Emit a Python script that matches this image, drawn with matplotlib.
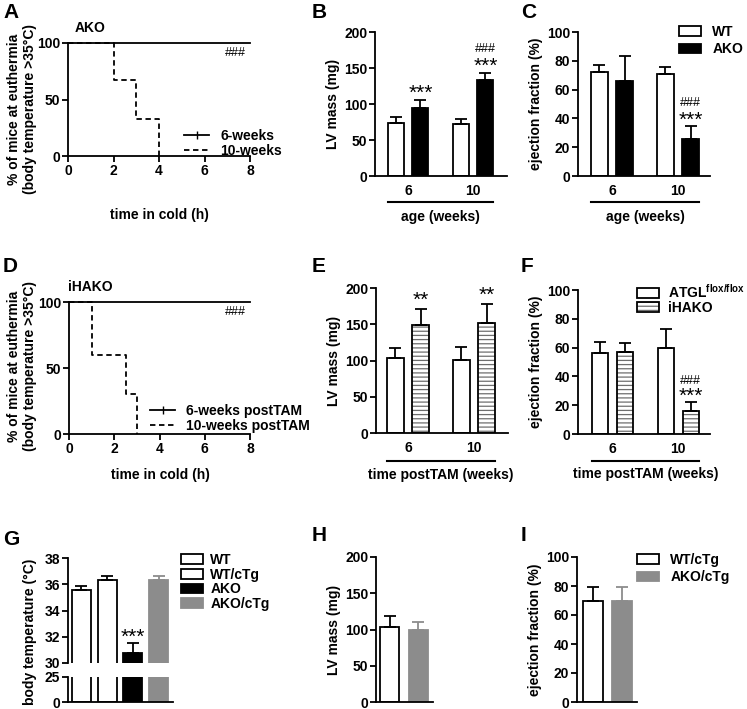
import matplotlib
matplotlib.use('Agg')
import matplotlib.pyplot as plt
from matplotlib.patches import Patch
from matplotlib.lines import Line2D
import numpy as np

plt.rcParams['font.family'] = ['Liberation Sans', 'DejaVu Sans']
plt.rcParams['font.weight'] = 'bold'
plt.rcParams['axes.labelweight'] = 'bold'
plt.rcParams['mathtext.fontset'] = 'custom'
plt.rcParams['mathtext.rm'] = 'Liberation Sans:bold'
plt.rcParams['mathtext.bf'] = 'Liberation Sans:bold'
plt.rcParams['hatch.linewidth'] = 0.9

# ---------------- data ----------------
a_time_6wk = [0, 8]
a_surv_6wk = [100, 100]
a_time_10wk = [0, 2, 3, 4]
a_surv_10wk = [100, 67, 33, 0]

d_time_6wk = [0, 8]
d_surv_6wk = [100, 100]
d_time_10wk = [0, 1, 2.5, 3]
d_surv_10wk = [100, 60, 30, 0]

groups = ['6', '10']
b_wt_mean = [74, 72]
b_wt_err = [8, 7]
b_ako_mean = [95, 133]
b_ako_err = [10, 10]

c_wt_mean = [72, 71]
c_wt_err = [5, 5]
c_ako_mean = [66, 26]
c_ako_err = [17, 9]

e_flox_mean = [104, 101]
e_flox_err = [13, 17]
e_ihako_mean = [149, 152]
e_ihako_err = [22, 26]

f_flox_mean = [56.5, 59.5]
f_flox_err = [7.5, 13.5]
f_ihako_mean = [57, 16]
f_ihako_err = [6.5, 6.5]

g_labels = ['WT', 'WT/cTg', 'AKO', 'AKO/cTg']
g_mean = [35.6, 36.3, 30.8, 36.3]
g_err = [0.3, 0.3, 0.7, 0.3]

hi_labels = ['WT/cTg', 'AKO/cTg']
h_mean = [104, 100]
h_err = [14, 10]
i_mean = [70, 69.5]
i_err = [9, 10]

GREY = '#8c8c8c'
LW = 1.3
FS = 10

W, H = 747, 709
fig = plt.figure(figsize=(W / 100, H / 100), dpi=100)


def rect(x0, y0, x1, y1):
    return [x0 / W, 1 - y1 / H, (x1 - x0) / W, (y1 - y0) / H]


def fxy(x, y):
    return (x / W, 1 - y / H)


def style(ax):
    for s in ['top', 'right']:
        ax.spines[s].set_visible(False)
    for s in ['left', 'bottom']:
        ax.spines[s].set_linewidth(LW)
    ax.tick_params(width=LW, length=4, labelsize=FS, direction='out', pad=1.5)


def letter(ch, x, y):
    fig.text(*fxy(x, y), ch, fontsize=15, fontweight='bold', ha='left', va='top')


def errbars(ax, x, means, errs, color='k'):
    ax.errorbar(x, means, yerr=[np.zeros(len(errs)), errs], fmt='none',
                ecolor=color, elinewidth=LW, capsize=4, capthick=LW, zorder=3)


def hatched_bars(ax, x, means, width):
    ax.bar(x, means, width, color='white', edgecolor='#6e6e6e', hatch='----',
           linewidth=0, zorder=2)
    ax.bar(x, means, width, fill=False, edgecolor='k', linewidth=LW, zorder=2.5)


def stat(ax, x, y, txt, off, kind='star'):
    if kind == 'star':
        ax.annotate(txt, xy=(x, y), xytext=(0, off), textcoords='offset points',
                    ha='center', va='baseline', fontsize=15, fontweight='normal',
                    annotation_clip=False)
    else:
        ax.annotate(txt, xy=(x, y), xytext=(0, off), textcoords='offset points',
                    ha='center', va='baseline', fontsize=9, fontweight='normal',
                    annotation_clip=False)


def group_bracket(ax, x0, x1, yfrac, label, lab_frac):
    ax.plot([x0, x1], [yfrac, yfrac], color='k', lw=1.5,
            transform=ax.get_xaxis_transform(), clip_on=False)
    ax.text((x0 + x1) / 2, lab_frac, label, transform=ax.get_xaxis_transform(),
            ha='center', va='center', fontsize=FS, fontweight='bold')


def km_handles():
    return [Line2D([0, 1], [0, 0], color='k', lw=LW, marker='|', markersize=6),
            Line2D([0, 1], [0, 0], color='k', lw=LW, ls=(0, (3, 2)))]


# ---------------- A ----------------
axA = fig.add_axes(rect(68, 43, 250, 156))
style(axA)
axA.step(a_time_10wk, a_surv_10wk, where='post', color='k', lw=LW,
         ls=(0, (3, 2)), clip_on=False)
axA.plot(a_time_6wk, a_surv_6wk, color='k', lw=LW, clip_on=False)
axA.set_xlim(0, 8)
axA.set_ylim(0, 100)
axA.set_xticks([0, 2, 4, 6, 8])
axA.set_yticks([0, 50, 100])
axA.set_ylabel('% of mice at euthermia\n(body temperature >35°C)', fontsize=FS,
               linespacing=1.15)
axA.yaxis.set_label_coords((37 - 68) / 182, (156 - 109) / 113)
fig.text(*fxy(159, 215), 'time in cold (h)', ha='center', va='center', fontsize=FS)
fig.text(*fxy(90, 28), 'AKO', ha='center', va='center', fontsize=FS)
fig.text(*fxy(235, 53), '###', ha='center', va='center', fontsize=9, fontweight='normal')
axA.legend(km_handles(), ['6-weeks', '10-weeks'], loc='upper left',
           bbox_to_anchor=fxy(184, 129), bbox_transform=fig.transFigure,
           frameon=False, fontsize=FS, handlelength=1.8, handletextpad=0.8,
           labelspacing=0.05, borderpad=0, borderaxespad=0)
letter('A', 3, 3)

# ---------------- D ----------------
axD = fig.add_axes(rect(69, 302, 250, 434))
style(axD)
axD.step(d_time_10wk, d_surv_10wk, where='post', color='k', lw=LW,
         ls=(0, (3, 2)), clip_on=False)
axD.plot(d_time_6wk, d_surv_6wk, color='k', lw=LW, clip_on=False)
axD.set_xlim(0, 8)
axD.set_ylim(0, 100)
axD.set_xticks([0, 2, 4, 6, 8])
axD.set_yticks([0, 50, 100])
axD.set_ylabel('% of mice at euthermia\n(body temperature >35°C)', fontsize=FS,
               linespacing=1.15)
axD.yaxis.set_label_coords((37 - 69) / 181, (434 - 366) / 132)
fig.text(*fxy(160, 475), 'time in cold (h)', ha='center', va='center', fontsize=FS)
fig.text(*fxy(90, 287), 'iHAKO', ha='center', va='center', fontsize=FS)
fig.text(*fxy(235, 312), '###', ha='center', va='center', fontsize=9, fontweight='normal')
axD.legend(km_handles(), ['6-weeks postTAM', '10-weeks postTAM'], loc='upper left',
           bbox_to_anchor=fxy(150, 404), bbox_transform=fig.transFigure,
           frameon=False, fontsize=FS, handlelength=1.8, handletextpad=0.8,
           labelspacing=0.05, borderpad=0, borderaxespad=0)
letter('D', 3, 257)

# ---------------- B ----------------
gx = np.arange(len(groups))
d, w = 0.19, 0.25
axB = fig.add_axes(rect(375, 32, 507, 176))
style(axB)
axB.bar(gx - d, b_wt_mean, w, color='white', edgecolor='k', lw=LW, zorder=2)
axB.bar(gx + d, b_ako_mean, w, color='k', edgecolor='k', lw=LW, zorder=2)
errbars(axB, gx - d, b_wt_mean, b_wt_err)
errbars(axB, gx + d, b_ako_mean, b_ako_err)
axB.set_xlim(-0.508, 1.523)
axB.set_ylim(0, 200)
axB.set_yticks([0, 50, 100, 150, 200])
axB.set_xticks(gx, groups)
axB.tick_params(axis='x', length=0, pad=6)
axB.set_ylabel('LV mass (mg)', fontsize=FS, labelpad=3)
stat(axB, gx[0] + d, b_ako_mean[0] + b_ako_err[0], '***', 1)
stat(axB, gx[1] + d, b_ako_mean[1] + b_ako_err[1], '***', 1)
stat(axB, gx[1] + d, b_ako_mean[1] + b_ako_err[1], '###', 15, 'hash')
group_bracket(axB, gx[0] - d - w / 2, gx[1] + d + w / 2, -0.18, 'age (weeks)', -0.285)
letter('B', 312, 3)

# ---------------- C ----------------
axC = fig.add_axes(rect(578, 32, 710, 176))
style(axC)
axC.bar(gx - d, c_wt_mean, w, color='white', edgecolor='k', lw=LW, zorder=2)
axC.bar(gx + d, c_ako_mean, w, color='k', edgecolor='k', lw=LW, zorder=2)
errbars(axC, gx - d, c_wt_mean, c_wt_err)
errbars(axC, gx + d, c_ako_mean, c_ako_err)
axC.set_xlim(-0.515, 1.485)
axC.set_ylim(0, 100)
axC.set_yticks([0, 20, 40, 60, 80, 100])
axC.set_xticks(gx, groups)
axC.tick_params(axis='x', length=0, pad=6)
axC.set_ylabel('ejection fraction (%)', fontsize=FS, labelpad=3)
stat(axC, gx[1] + d, c_ako_mean[1] + c_ako_err[1], '***', 0)
stat(axC, gx[1] + d, c_ako_mean[1] + c_ako_err[1], '###', 14, 'hash')
group_bracket(axC, gx[0] - d - w / 2, gx[1] + d + w / 2, -0.18, 'age (weeks)', -0.285)
axC.legend([Patch(facecolor='white', edgecolor='k', lw=LW),
            Patch(facecolor='k', edgecolor='k', lw=LW)], ['WT', 'AKO'],
           loc='upper left', bbox_to_anchor=fxy(679, 25), bbox_transform=fig.transFigure,
           frameon=False, fontsize=FS, handlelength=1.6, handleheight=0.7,
           handletextpad=0.8, labelspacing=0.25, borderpad=0, borderaxespad=0)
letter('C', 521, 3)

# ---------------- E ----------------
axE = fig.add_axes(rect(376, 288, 508, 433))
style(axE)
axE.bar(gx - d, e_flox_mean, w, color='white', edgecolor='k', lw=LW, zorder=2)
hatched_bars(axE, gx + d, e_ihako_mean, w)
errbars(axE, gx - d, e_flox_mean, e_flox_err)
errbars(axE, gx + d, e_ihako_mean, e_ihako_err)
axE.set_xlim(-0.485, 1.515)
axE.set_ylim(0, 200)
axE.set_yticks([0, 50, 100, 150, 200])
axE.set_xticks(gx, groups)
axE.tick_params(axis='x', length=0, pad=6)
axE.set_ylabel('LV mass (mg)', fontsize=FS, labelpad=3)
stat(axE, gx[0] + d, e_ihako_mean[0] + e_ihako_err[0], '**', 2)
stat(axE, gx[1] + d, e_ihako_mean[1] + e_ihako_err[1], '**', 2)
group_bracket(axE, gx[0] - d - w / 2, gx[1] + d + w / 2, -0.193, 'time postTAM (weeks)', -0.29)
letter('E', 312, 257)

# ---------------- F ----------------
axF = fig.add_axes(rect(578, 290, 710, 434))
style(axF)
axF.bar(gx - d, f_flox_mean, w, color='white', edgecolor='k', lw=LW, zorder=2)
hatched_bars(axF, gx + d, f_ihako_mean, w)
errbars(axF, gx - d, f_flox_mean, f_flox_err)
errbars(axF, gx + d, f_ihako_mean, f_ihako_err)
axF.set_xlim(-0.52, 1.48)
axF.set_ylim(0, 100)
axF.set_yticks([0, 20, 40, 60, 80, 100])
axF.set_xticks(gx, groups)
axF.tick_params(axis='x', length=0, pad=6)
axF.set_ylabel('ejection fraction (%)', fontsize=FS, labelpad=3)
stat(axF, gx[1] + d, f_ihako_mean[1] + f_ihako_err[1], '***', 0)
stat(axF, gx[1] + d, f_ihako_mean[1] + f_ihako_err[1], '###', 13, 'hash')
group_bracket(axF, gx[0] - d - w / 2, gx[1] + d + w / 2, -0.188, 'time postTAM (weeks)', -0.28)
fp = Patch(facecolor='white', edgecolor='#6e6e6e', hatch='----', lw=0)
axF.legend([Patch(facecolor='white', edgecolor='k', lw=LW),
            (fp, Patch(fill=False, edgecolor='k', lw=LW))],
           [r'ATGL$^{\mathbf{flox/flox}}$', 'iHAKO'],
           loc='upper left', bbox_to_anchor=fxy(637, 283), bbox_transform=fig.transFigure,
           frameon=False, fontsize=FS, handlelength=1.6, handleheight=0.7,
           handletextpad=0.6, labelspacing=0.0, borderpad=0, borderaxespad=0)
letter('F', 521, 257)

# ---------------- G ----------------
gxg = np.arange(len(g_labels))
wg = 0.74
g_face = ['white', 'white', 'k', GREY]
g_edge = ['k', 'k', 'k', GREY]
axGt = fig.add_axes(rect(68, 558, 173, 663))
axGb = fig.add_axes(rect(68, 677, 173, 702))
for ax in (axGt, axGb):
    style(ax)
    ax.bar(gxg, g_mean, wg, color=g_face, edgecolor=g_edge, lw=LW, zorder=2)
    ax.set_xlim(-0.525, 3.56)
    ax.set_xticks([])
axGt.spines['bottom'].set_visible(False)
for xi, m, e, c in zip(gxg, g_mean, g_err, g_edge):
    errbars(axGt, [xi], [m], [e], color=c)
axGt.set_ylim(30, 38)
axGt.set_yticks([30, 32, 34, 36, 38])
axGb.set_ylim(0, 25)
axGb.set_yticks([0, 25])
stat(axGt, gxg[2], g_mean[2] + g_err[2], '***', 0)
fig.text(*fxy(30, 632), 'body temperature (°C)', rotation=90, ha='center', va='center',
         fontsize=FS)
axGt.legend([Patch(facecolor=f, edgecolor=e, lw=LW) for f, e in zip(g_face, g_edge)],
            g_labels, loc='upper left', bbox_to_anchor=fxy(181, 553),
            bbox_transform=fig.transFigure, frameon=False, fontsize=FS,
            handlelength=1.6, handleheight=0.7, handletextpad=0.5,
            labelspacing=0.05, borderpad=0, borderaxespad=0)
letter('G', 3, 530)

# ---------------- H ----------------
hx = np.arange(len(hi_labels))
axH = fig.add_axes(rect(376, 557, 433, 702))
style(axH)
axH.bar(hx, h_mean, 0.667, color=['white', GREY], edgecolor=['k', GREY], lw=LW, zorder=2)
errbars(axH, [hx[0]], [h_mean[0]], [h_err[0]], 'k')
errbars(axH, [hx[1]], [h_mean[1]], [h_err[1]], GREY)
axH.set_xlim(-0.474, 1.526)
axH.set_ylim(0, 200)
axH.set_yticks([0, 50, 100, 150, 200])
axH.set_xticks([])
axH.set_ylabel('LV mass (mg)', fontsize=FS, labelpad=3)
letter('H', 312, 526)

# ---------------- I ----------------
axI = fig.add_axes(rect(577, 557, 637, 702))
style(axI)
axI.bar(hx, i_mean, 0.69, color=['white', GREY], edgecolor=['k', GREY], lw=LW, zorder=2)
errbars(axI, [hx[0]], [i_mean[0]], [i_err[0]], 'k')
errbars(axI, [hx[1]], [i_mean[1]], [i_err[1]], GREY)
axI.set_xlim(-0.552, 1.517)
axI.set_ylim(0, 100)
axI.set_yticks([0, 20, 40, 60, 80, 100])
axI.set_xticks([])
axI.set_ylabel('ejection fraction (%)', fontsize=FS, labelpad=3)
axI.legend([Patch(facecolor='white', edgecolor='k', lw=LW),
            Patch(facecolor=GREY, edgecolor=GREY, lw=LW)], hi_labels,
           loc='upper left', bbox_to_anchor=fxy(637, 553), bbox_transform=fig.transFigure,
           frameon=False, fontsize=FS, handlelength=1.6, handleheight=0.7,
           handletextpad=0.8, labelspacing=0.25, borderpad=0, borderaxespad=0)
letter('I', 521, 526)

fig.savefig('out.png', dpi=100)
